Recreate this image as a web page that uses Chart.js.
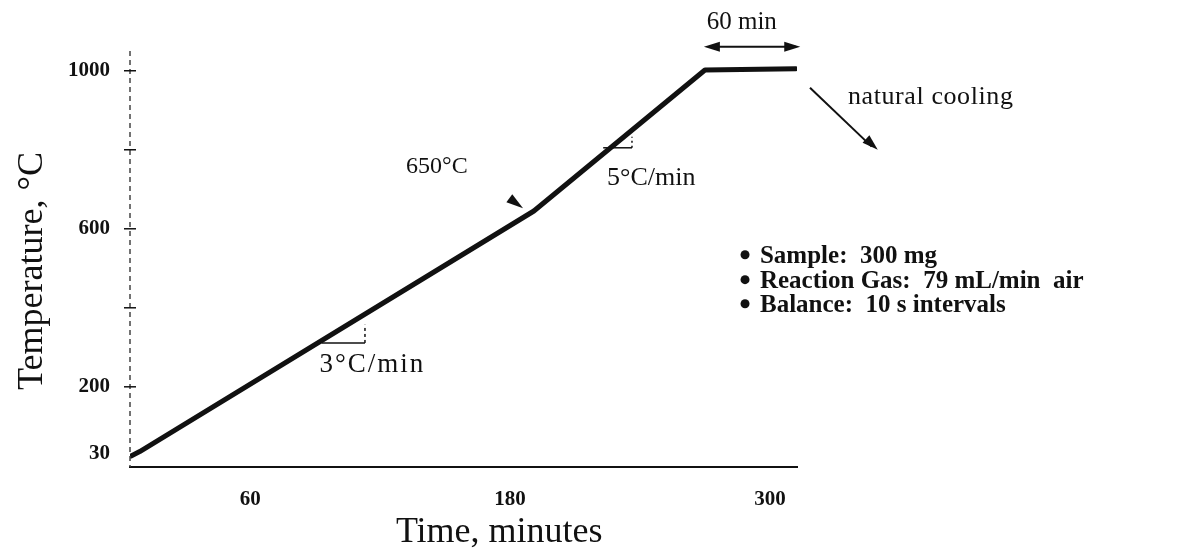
<!DOCTYPE html>
<html>
<head>
<meta charset="utf-8">
<script src="https://cdn.jsdelivr.net/npm/chart.js@4.4.0/dist/chart.umd.min.js"></script>
<style>
  html, body { margin: 0; background: #fff; }
</style>
</head>
<body>
<canvas id="grafica" width="1196" height="548"></canvas>
<script>
// programa de calentamiento: tiempo (min) y temperatura (°C)
const tiempos = [5, 9, 191, 270, 312];
const temperaturas = [25, 36, 645, 1002, 1005];

const ticksX = [60, 180, 300];
const ticksY = [30, 200, 400, 600, 800, 1000];
const etiquetasY = ['30', '200', '', '600', '', '1000'];

const condiciones = ['Sample:  300 mg', 'Reaction Gas:  79 mL/min  air', 'Balance:  10 s intervals'];

const FUENTE = '"Liberation Serif", "DejaVu Serif", serif';
const NEGRO = '#111';

function flecha(ctx, x0, y0, x1, y1, largo, ancho) {
  const ang = Math.atan2(y1 - y0, x1 - x0);
  ctx.beginPath();
  ctx.moveTo(x1, y1);
  ctx.lineTo(x1 - largo * Math.cos(ang) + ancho * Math.sin(ang), y1 - largo * Math.sin(ang) - ancho * Math.cos(ang));
  ctx.lineTo(x1 - largo * Math.cos(ang) - ancho * Math.sin(ang), y1 - largo * Math.sin(ang) + ancho * Math.cos(ang));
  ctx.closePath();
  ctx.fill();
}

const anotaciones = {
  id: 'anotaciones',
  afterDraw(chart) {
    const { ctx, scales: { x, y } } = chart;
    const px = v => x.getPixelForValue(v);
    const py = v => y.getPixelForValue(v);

    ctx.save();
    ctx.fillStyle = NEGRO;
    ctx.strokeStyle = NEGRO;

    // eje de temperatura punteado
    ctx.strokeStyle = '#444';
    ctx.lineWidth = 1.5;
    ctx.setLineDash([5, 4]);
    ctx.beginPath();
    ctx.moveTo(x.left, y.top);
    ctx.lineTo(x.left, y.bottom);
    ctx.stroke();
    ctx.setLineDash([]);
    ctx.strokeStyle = NEGRO;

    // marcas del eje de temperatura (cruzan el eje)
    ticksY.slice(1).forEach(v => {
      ctx.beginPath();
      ctx.moveTo(x.left - 6, py(v));
      ctx.lineTo(x.left + 6, py(v));
      ctx.stroke();
    });

    // triángulo de pendiente 3°C/min
    ctx.beginPath();
    ctx.moveTo(px(93), py(311));
    ctx.lineTo(px(113), py(311));
    ctx.stroke();
    ctx.setLineDash([3, 3]);
    ctx.beginPath();
    ctx.moveTo(px(113), py(311));
    ctx.lineTo(px(113), py(357));
    ctx.stroke();
    ctx.setLineDash([]);

    // triángulo de pendiente 5°C/min
    ctx.beginPath();
    ctx.moveTo(px(223), py(805));
    ctx.lineTo(px(236.3), py(805));
    ctx.stroke();
    ctx.setLineDash([2, 3]);
    ctx.beginPath();
    ctx.moveTo(px(236.3), py(805));
    ctx.lineTo(px(236.3), py(833));
    ctx.stroke();
    ctx.setLineDash([]);

    // punta que señala el cambio a 650°C
    flecha(ctx, px(180), py(676), px(186), py(652), 17, 5);

    // 60 min de meseta
    ctx.lineWidth = 2;
    const yFl = py(1061);
    ctx.beginPath();
    ctx.moveTo(px(272), yFl);
    ctx.lineTo(px(312), yFl);
    ctx.stroke();
    flecha(ctx, px(290), yFl, px(314), yFl, 16, 5);
    flecha(ctx, px(290), yFl, px(269.5), yFl, 16, 5);

    // enfriamiento natural
    ctx.beginPath();
    ctx.moveTo(px(318.5), py(957));
    ctx.lineTo(px(347), py(808));
    ctx.stroke();
    flecha(ctx, px(318.5), py(957), px(349.8), py(800), 16, 5);

    // textos de anotación
    ctx.textBaseline = 'alphabetic';
    ctx.textAlign = 'left';
    ctx.font = `24px ${FUENTE}`;
    ctx.fillText('650°C', px(132), py(742));
    ctx.font = `27px ${FUENTE}`;
    ctx.letterSpacing = '2px';
    ctx.fillText('3°C/min', px(92), py(238));
    ctx.font = `26px ${FUENTE}`;
    ctx.letterSpacing = '0px';
    ctx.fillText('5°C/min', px(224.8), py(711));
    ctx.letterSpacing = '0.6px';
    ctx.fillText('natural cooling', px(336), py(916));
    ctx.letterSpacing = '0px';
    ctx.textAlign = 'center';
    ctx.font = `25px ${FUENTE}`;
    ctx.fillText('60 min', px(287), py(1106));

    // condiciones del ensayo
    ctx.textAlign = 'left';
    ctx.font = `bold 25px ${FUENTE}`;
    const filas = [514, 451, 390];
    condiciones.forEach((t, i) => {
      ctx.beginPath();
      ctx.arc(px(288.5), py(filas[i]) - 8, 4.5, 0, Math.PI * 2);
      ctx.fill();
      ctx.fillText(t, px(295.4), py(filas[i]));
    });

    // títulos de los ejes
    ctx.font = `36px ${FUENTE}`;
    ctx.textAlign = 'center';
    ctx.fillText('Time, minutes', px(175), py(-193));
    ctx.translate(42, (y.top + y.bottom) / 2 + 12);
    ctx.rotate(-Math.PI / 2);
    ctx.fillText('Temperature, °C', 0, 0);
    ctx.restore();
  }
};

new Chart(document.getElementById('grafica'), {
  type: 'line',
  data: {
    datasets: [{
      data: tiempos.map((t, i) => ({ x: t, y: temperaturas[i] })),
      borderColor: NEGRO,
      borderWidth: 5,
      pointRadius: 0,
      tension: 0,
      borderJoinStyle: 'round',
      borderCapStyle: 'round'
    }]
  },
  options: {
    responsive: false,
    animation: false,
    layout: { padding: { top: 51, right: 399, left: 0, bottom: 0 } },
    plugins: { legend: { display: false }, tooltip: { enabled: false } },
    scales: {
      x: {
        type: 'linear',
        min: 4.5,
        max: 312.5,
        afterBuildTicks: s => { s.ticks = ticksX.map(v => ({ value: v })); },
        afterFit: s => { s.height = 81; },
        grid: { drawOnChartArea: false, drawTicks: false },
        border: { color: NEGRO, width: 2 },
        ticks: { color: NEGRO, padding: 20, font: { family: FUENTE, size: 21, weight: 'bold' } }
      },
      y: {
        min: -3,
        max: 1050,
        afterBuildTicks: s => { s.ticks = ticksY.map(v => ({ value: v })); },
        afterFit: s => { s.width = 130; },
        grid: { drawOnChartArea: false, drawTicks: false },
        border: { display: false },
        ticks: {
          color: NEGRO,
          padding: 20,
          font: { family: FUENTE, size: 21, weight: 'bold' },
          callback: v => etiquetasY[ticksY.indexOf(v)]
        }
      }
    }
  },
  plugins: [anotaciones]
});
</script>
</body>
</html>
